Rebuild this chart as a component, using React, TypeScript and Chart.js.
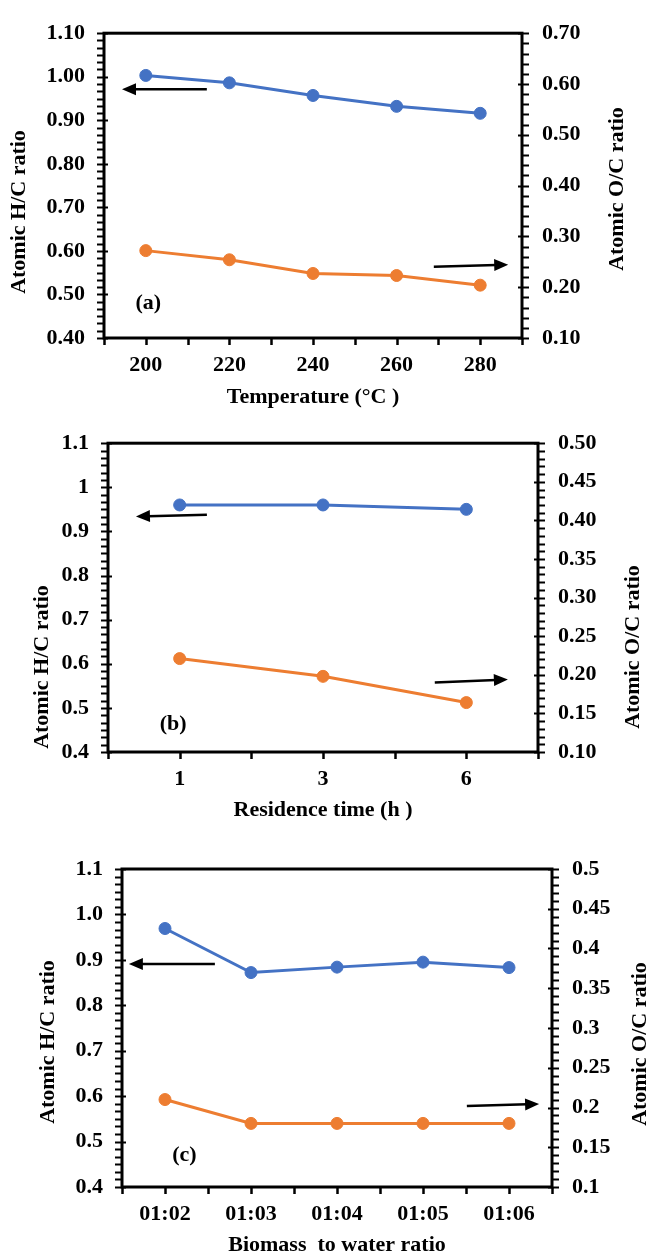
import React, { useEffect, useRef } from 'react';
import { Chart, registerables } from 'chart.js';

Chart.register(...registerables);

const FAMILY = "'Liberation Serif', 'Times New Roman', serif";
const BLUE = '#4472C4';
const ORANGE = '#ED7D31';

// ---- Panel (a): temperature ----
const tempCategories = ['200', '220', '240', '260', '280'];
const tempHC = [1.003, 0.986, 0.957, 0.932, 0.916];
const tempOC = [0.272, 0.254, 0.227, 0.223, 0.204];
const tempLeftRange = [0.4, 1.1, 0.1];
const tempRightRange = [0.1, 0.7, 0.1];

// ---- Panel (b): residence time ----
const timeCategories = ['1', '3', '6'];
const timeHC = [0.96, 0.96, 0.95];
const timeOC = [0.221, 0.198, 0.164];
const timeLeftRange = [0.4, 1.1, 0.1];
const timeRightRange = [0.1, 0.5, 0.05];

// ---- Panel (c): biomass to water ratio ----
const ratioCategories = ['01:02', '01:03', '01:04', '01:05', '01:06'];
const ratioHC = [0.969, 0.872, 0.884, 0.895, 0.883];
const ratioOC = [0.21, 0.18, 0.18, 0.18, 0.18];
const ratioLeftRange = [0.4, 1.1, 0.1];
const ratioRightRange = [0.1, 0.5, 0.05];

// Arrow annotations in data units: [x1, y1, x2, y2, axis]
const tempArrows: [number, number, number, number, string][] = [
  [2.46, 0.971, 0.43, 0.971, 'y'],
  [7.89, 0.2405, 9.67, 0.2443, 'y1'],
];
const timeArrows: [number, number, number, number, string][] = [
  [1.38, 0.938, 0.39, 0.934, 'y'],
  [4.56, 0.19, 5.58, 0.194, 'y1'],
];
const ratioArrows: [number, number, number, number, string][] = [
  [2.16, 0.891, 0.16, 0.891, 'y'],
  [8.02, 0.2019, 9.7, 0.2044, 'y1'],
];

const fmt2 = (v: number) => v.toFixed(2);
const fmt1 = (v: number) => v.toFixed(1);
const fmtG = (v: number) => String(parseFloat(v.toFixed(2)));

interface Panel {
  top: number;
  height: number;
  L: number;
  R: number;
  T: number;
  B: number;
  categories: string[];
  hc: number[];
  oc: number[];
  leftRange: number[];
  rightRange: number[];
  leftFmt: (v: number) => string;
  rightFmt: (v: number) => string;
  leftMinor: number;
  rightMinor: number;
  arrows: [number, number, number, number, string][];
  tag: string;
  tagPos: number[];
  xTitle: string;
  xTitleY: number;
  leftTitle: number[];
  rightTitle: number[];
}

const panels: Panel[] = [
  {
    top: 0, height: 410, L: 104, R: 522, T: 22, B: 338,
    categories: tempCategories, hc: tempHC, oc: tempOC,
    leftRange: tempLeftRange, rightRange: tempRightRange,
    leftFmt: fmt2, rightFmt: fmt2, leftMinor: 6, rightMinor: 5,
    arrows: tempArrows, tag: '(a)', tagPos: [1.06, 0.48],
    xTitle: 'Temperature (°C )', xTitleY: 397,
    leftTitle: [19, 212], rightTitle: [617, 189],
  },
  {
    top: 410, height: 420, L: 108, R: 538, T: 26, B: 342,
    categories: timeCategories, hc: timeHC, oc: timeOC,
    leftRange: timeLeftRange, rightRange: timeRightRange,
    leftFmt: fmtG, rightFmt: fmt2, leftMinor: 6, rightMinor: 5,
    arrows: timeArrows, tag: '(b)', tagPos: [0.91, 0.462],
    xTitle: 'Residence time (h )', xTitleY: 400,
    leftTitle: [42, 257], rightTitle: [633, 237],
  },
  {
    top: 830, height: 426, L: 122, R: 552, T: 39, B: 357,
    categories: ratioCategories, hc: ratioHC, oc: ratioOC,
    leftRange: ratioLeftRange, rightRange: ratioRightRange,
    leftFmt: fmt1, rightFmt: fmtG, leftMinor: 6, rightMinor: 5,
    arrows: ratioArrows, tag: '(c)', tagPos: [1.45, 0.47],
    xTitle: 'Biomass  to water ratio', xTitleY: 415,
    leftTitle: [48, 212], rightTitle: [640, 214],
  },
];

const W = 647;
const FONT_CSS = `bold 22px ${FAMILY}`;

function makeDecor(p: Panel) {
  return {
    id: 'decor',
    afterDraw(chart: any) {
      const { ctx, chartArea: a, scales } = chart;
      const xs = scales.x, ys = scales.y, y1 = scales.y1;
      ctx.save();
      ctx.strokeStyle = '#000';
      ctx.fillStyle = '#000';
      ctx.lineCap = 'butt';

      // left axis ticks
      const [lmin, lmax, lstep] = p.leftRange;
      const ln = Math.round(((lmax - lmin) / lstep) * p.leftMinor);
      for (let i = 0; i <= ln; i++) {
        const v = lmin + (i * lstep) / p.leftMinor;
        const py = Math.round(ys.getPixelForValue(v)) + 0.5;
        const major = i % p.leftMinor === 0;
        ctx.lineWidth = 2;
        ctx.beginPath();
        ctx.moveTo(a.left - 7, py);
        ctx.lineTo(a.left + (major ? 4 : 0), py);
        ctx.stroke();
      }
      // right axis ticks
      const [rmin, rmax, rstep] = p.rightRange;
      const rn = Math.round(((rmax - rmin) / rstep) * p.rightMinor);
      for (let i = 0; i <= rn; i++) {
        const v = rmin + (i * rstep) / p.rightMinor;
        const py = Math.round(y1.getPixelForValue(v)) + 0.5;
        const major = i % p.rightMinor === 0;
        ctx.lineWidth = 2;
        ctx.beginPath();
        ctx.moveTo(a.right - (major ? 4 : 0), py);
        ctx.lineTo(a.right + 7, py);
        ctx.stroke();
      }
      // x axis ticks
      xs.ticks.forEach((t: any) => {
        const px = Math.round(xs.getPixelForValue(t.value)) + 0.5;
        ctx.lineWidth = 2.5;
        ctx.beginPath();
        ctx.moveTo(px, a.bottom);
        ctx.lineTo(px, a.bottom + 7);
        ctx.stroke();
      });

      // frame
      ctx.lineWidth = 3;
      ctx.strokeRect(a.left, a.top, a.right - a.left, a.bottom - a.top);

      // arrows
      p.arrows.forEach(([x1, v1, x2, v2, axis]) => {
        const sc = scales[axis];
        const px1 = xs.getPixelForValue(x1), py1 = sc.getPixelForValue(v1);
        const px2 = xs.getPixelForValue(x2), py2 = sc.getPixelForValue(v2);
        const ang = Math.atan2(py2 - py1, px2 - px1);
        const hl = 14, hw = 6;
        const bx = px2 - hl * Math.cos(ang), by = py2 - hl * Math.sin(ang);
        ctx.lineWidth = 2.5;
        ctx.beginPath();
        ctx.moveTo(px1, py1);
        ctx.lineTo(bx + 2 * Math.cos(ang), by + 2 * Math.sin(ang));
        ctx.stroke();
        ctx.beginPath();
        ctx.moveTo(px2, py2);
        ctx.lineTo(bx - hw * Math.sin(ang), by + hw * Math.cos(ang));
        ctx.lineTo(bx + hw * Math.sin(ang), by - hw * Math.cos(ang));
        ctx.closePath();
        ctx.fill();
      });

      // panel tag
      ctx.font = FONT_CSS;
      ctx.textAlign = 'center';
      ctx.textBaseline = 'middle';
      ctx.fillText(p.tag, xs.getPixelForValue(p.tagPos[0]), ys.getPixelForValue(p.tagPos[1]));

      // axis titles
      ctx.fillText(p.xTitle, (a.left + a.right) / 2, p.xTitleY);
      ctx.save();
      ctx.translate(p.leftTitle[0], p.leftTitle[1]);
      ctx.rotate(-Math.PI / 2);
      ctx.fillText('Atomic H/C ratio', 0, 0);
      ctx.restore();
      ctx.save();
      ctx.translate(p.rightTitle[0], p.rightTitle[1]);
      ctx.rotate(-Math.PI / 2);
      ctx.fillText('Atomic O/C ratio', 0, 0);
      ctx.restore();

      ctx.restore();
    },
  };
}

function PanelChart({ p }: { p: Panel }) {
  const ref = useRef<HTMLCanvasElement | null>(null);
  useEffect(() => {
    if (!ref.current) return;
    const n = p.categories.length;
    const tickFont = { family: FAMILY, size: 22, weight: 'bold' as const };
    const chart = new Chart(ref.current, {
      type: 'line',
      data: {
        datasets: [
          {
            label: 'H/C',
            data: p.hc.map((v, i) => ({ x: 2 * i + 1, y: v })),
            borderColor: BLUE,
            backgroundColor: BLUE,
            pointBackgroundColor: BLUE,
            pointBorderColor: BLUE,
            borderWidth: 3,
            pointRadius: 6,
            pointBorderWidth: 1,
            yAxisID: 'y',
            tension: 0,
          },
          {
            label: 'O/C',
            data: p.oc.map((v, i) => ({ x: 2 * i + 1, y: v })),
            borderColor: ORANGE,
            backgroundColor: ORANGE,
            pointBackgroundColor: ORANGE,
            pointBorderColor: ORANGE,
            borderWidth: 3,
            pointRadius: 6,
            pointBorderWidth: 1,
            yAxisID: 'y1',
            tension: 0,
          },
        ],
      },
      options: {
        responsive: false,
        animation: false,
        events: [],
        layout: { padding: { top: p.T, left: 0, right: 0, bottom: 0 } },
        plugins: { legend: { display: false }, tooltip: { enabled: false }, title: { display: false } },
        scales: {
          x: {
            type: 'linear',
            min: 0,
            max: 2 * n,
            grid: { display: false, drawTicks: false },
            border: { display: false },
            ticks: {
              stepSize: 1,
              autoSkip: false,
              maxRotation: 0,
              minRotation: 0,
              padding: 14,
              color: '#000',
              font: tickFont,
              callback: (value: any) => {
                const v = Math.round(Number(value));
                return v % 2 === 1 ? p.categories[(v - 1) / 2] : '';
              },
            },
            afterFit: (s: any) => { s.height = p.height - p.B; },
          },
          y: {
            type: 'linear',
            position: 'left',
            min: p.leftRange[0],
            max: p.leftRange[1],
            grid: { display: false, drawTicks: false },
            border: { display: false },
            ticks: {
              stepSize: p.leftRange[2],
              padding: 19,
              color: '#000',
              font: tickFont,
              callback: (value: any) => p.leftFmt(Number(value)),
            },
            afterFit: (s: any) => { s.width = p.L; },
          },
          y1: {
            type: 'linear',
            position: 'right',
            min: p.rightRange[0],
            max: p.rightRange[1],
            grid: { display: false, drawTicks: false },
            border: { display: false },
            ticks: {
              stepSize: p.rightRange[2],
              padding: 20,
              color: '#000',
              font: tickFont,
              callback: (value: any) => p.rightFmt(Number(value)),
            },
            afterFit: (s: any) => { s.width = W - p.R; },
          },
        },
      },
      plugins: [makeDecor(p)],
    } as any);
    return () => chart.destroy();
  }, [p]);
  return (
    <canvas
      ref={ref}
      width={W}
      height={p.height}
      style={{ position: 'absolute', left: 0, top: p.top, width: W, height: p.height, display: 'block' }}
    />
  );
}

export default function App() {
  return (
    <div style={{ position: 'absolute', left: 0, top: 0, width: W, height: 1256, background: '#fff', overflow: 'hidden' }}>
      {panels.map((p) => (
        <PanelChart key={p.tag} p={p} />
      ))}
    </div>
  );
}
